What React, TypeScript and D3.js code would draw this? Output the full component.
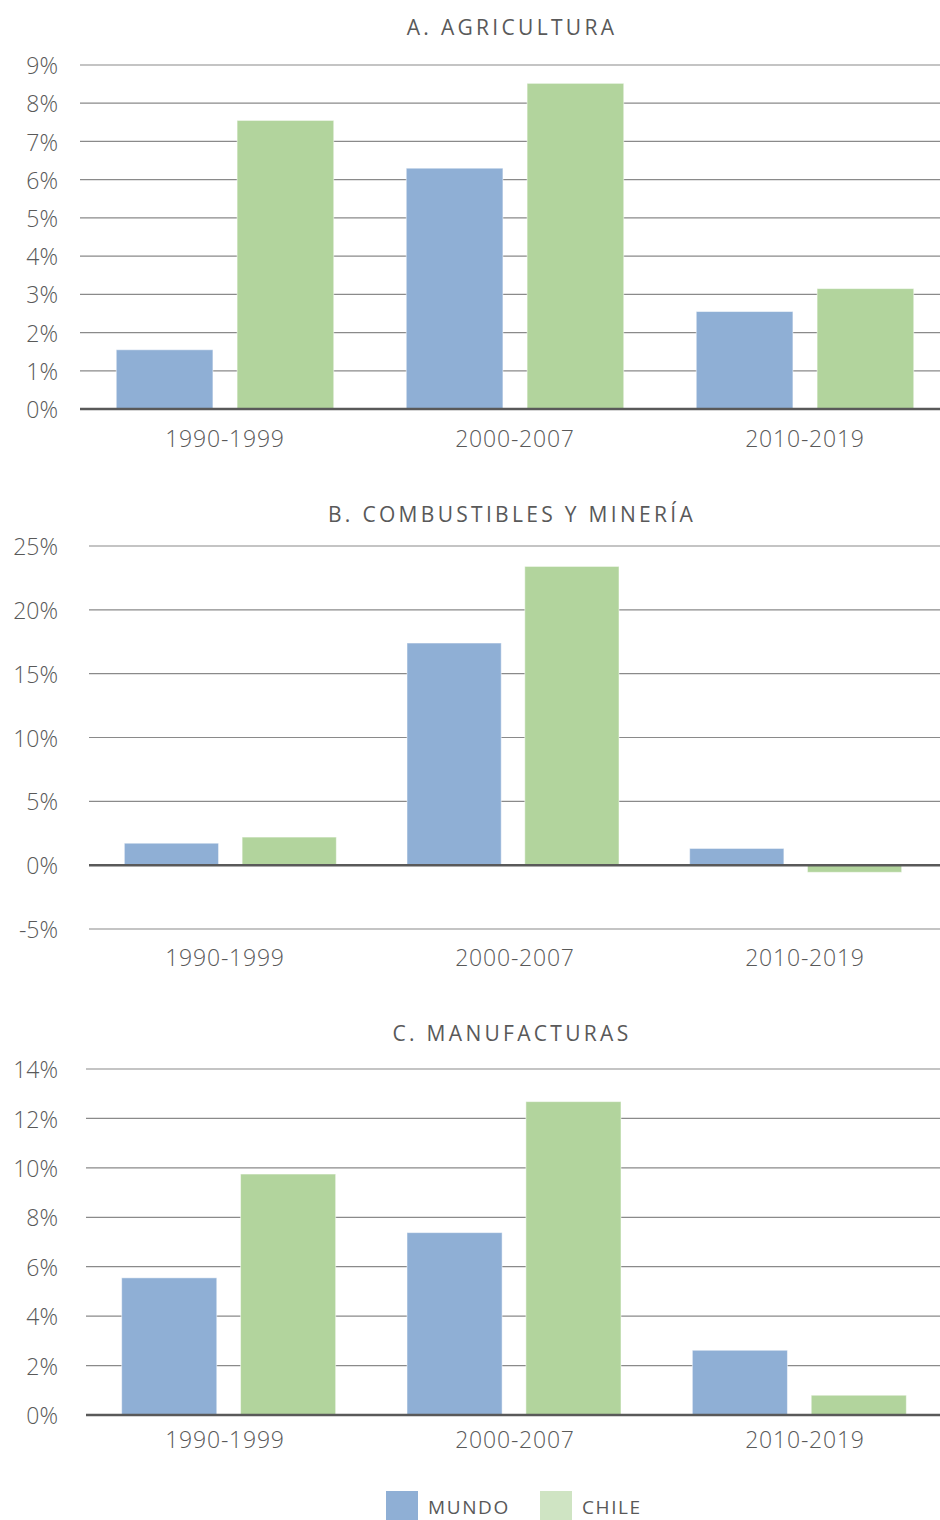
import * as d3 from "d3";

const categories = ["1990-1999", "2000-2007", "2010-2019"];
const seriesNames = ["MUNDO", "CHILE"];
const seriesColors = ["#8fafd5", "#b2d49d"];
const legendColors = ["#8fafd5", "#cfe4c3"];

const agriculturaMundo = [1.55, 6.3, 2.55];
const agriculturaChile = [7.55, 8.52, 3.15];
const combustiblesMundo = [1.72, 17.4, 1.31];
const combustiblesChile = [2.2, 23.4, -0.56];
const manufacturasMundo = [5.55, 7.38, 2.62];
const manufacturasChile = [9.75, 12.68, 0.8];

const agriculturaTicks = [0, 1, 2, 3, 4, 5, 6, 7, 8, 9];
const combustiblesTicks = [-5, 0, 5, 10, 15, 20, 25];
const manufacturasTicks = [0, 2, 4, 6, 8, 10, 12, 14];

const WIDTH = 940;
const HEIGHT = 1520;
const FONT = "'Open Sans', sans-serif";
const TEXT = "#595959";

// category labels sit at the same spots in every panel
const labelX = d3.scaleBand<string>().domain(categories).range([80, 950]);

interface PanelProps {
  title: string;
  titleY: number;
  mundo: number[];
  chile: number[];
  ticks: number[];
  xRange: [number, number];
  yRange: [number, number];
  labelY: number;
}

function Panel({ title, titleY, mundo, chile, ticks, xRange, yRange, labelY }: PanelProps) {
  const x = d3.scaleBand<string>().domain(categories).range(xRange);
  const inner = d3.scaleBand<string>()
    .domain(seriesNames)
    .range([0, x.bandwidth()])
    .paddingInner(0.2)
    .paddingOuter(0.3);
  const y = d3.scaleLinear()
    .domain([ticks[0], ticks[ticks.length - 1]])
    .range(yRange);
  const values = [mundo, chile];

  return (
    <g>
      <text x={512} y={titleY + 2} textAnchor="middle" dominantBaseline="middle"
        fontSize={21} letterSpacing={3.3} fill={TEXT}>{title}</text>
      {/* grid lines */}
      {ticks.map(t => (
        <g key={t}>
          {t !== 0 && (
            <line x1={xRange[0]} x2={WIDTH} y1={y(t)} y2={y(t)} stroke="#8a8a8a" strokeWidth={1.2} />
          )}
          <text x={58} y={y(t) + 3} textAnchor="end" dominantBaseline="middle"
            fontSize={23} fontWeight={300} fill={TEXT}>{t}%</text>
        </g>
      ))}
      {/* bars */}
      {categories.map((c, i) => (
        <g key={c} transform={`translate(${x(c)},0)`}>
          {seriesNames.map((s, k) => {
            const v = values[k][i];
            return (
              <rect key={s}
                x={inner(s)}
                y={Math.min(y(v), y(0))}
                width={inner.bandwidth()}
                height={Math.abs(y(v) - y(0))}
                fill={seriesColors[k]}
                stroke="#ffffff" strokeOpacity={0.5} strokeWidth={1} />
            );
          })}
        </g>
      ))}
      <line x1={xRange[0]} x2={WIDTH} y1={y(0)} y2={y(0)} stroke="#595959" strokeWidth={2.5} />
      {categories.map(c => (
        <text key={c} x={(labelX(c) as number) + labelX.bandwidth() / 2} y={labelY + 2}
          textAnchor="middle" dominantBaseline="middle" fontSize={23} fontWeight={300}
          letterSpacing={0.8} fill={TEXT}>{c}</text>
      ))}
    </g>
  );
}

export default function App() {
  return (
    <svg width={WIDTH} height={HEIGHT} fontFamily={FONT}
      style={{ position: "absolute", left: 0, top: 0, background: "#fff" }}>
      <rect width={WIDTH} height={HEIGHT} fill="#fff" />
      <Panel title="A. AGRICULTURA" titleY={27} mundo={agriculturaMundo} chile={agriculturaChile}
        ticks={agriculturaTicks} xRange={[80, 950]} yRange={[409, 65]} labelY={439} />
      <Panel title="B. COMBUSTIBLES Y MINERÍA" titleY={514} mundo={combustiblesMundo} chile={combustiblesChile}
        ticks={combustiblesTicks} xRange={[89, 937]} yRange={[929, 546]} labelY={958} />
      <Panel title="C. MANUFACTURAS" titleY={1033} mundo={manufacturasMundo} chile={manufacturasChile}
        ticks={manufacturasTicks} xRange={[86, 942]} yRange={[1415, 1069]} labelY={1440} />
      {/* legend */}
      {seriesNames.map((s, k) => (
        <g key={s} transform={`translate(${386 + k * 154},1491)`}>
          <rect width={32} height={30} fill={legendColors[k]} />
          <text x={42} y={18} dominantBaseline="middle" fontSize={19} letterSpacing={1.6} fill={TEXT}>{s}</text>
        </g>
      ))}
    </svg>
  );
}
